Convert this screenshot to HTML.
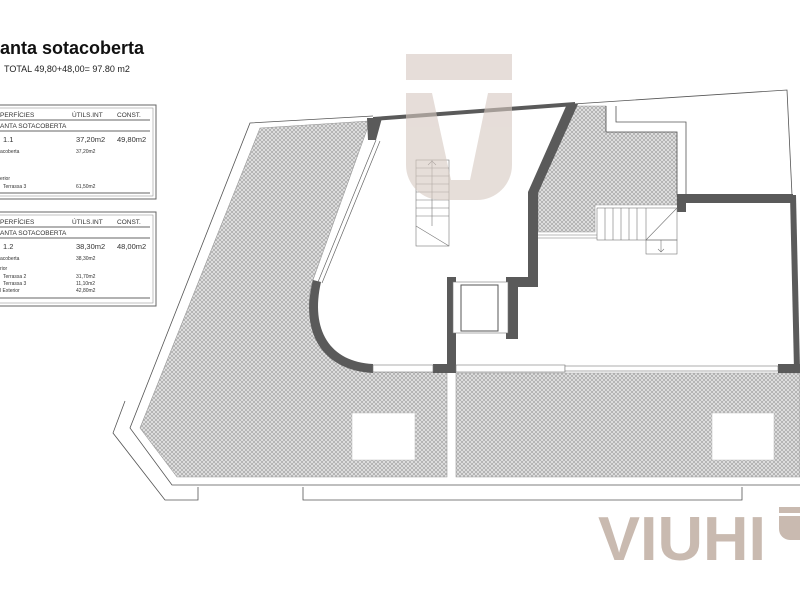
<!DOCTYPE html>
<html><head><meta charset="utf-8"><style>
html,body{margin:0;padding:0;background:#fff;}
svg{display:block;}
text{font-family:"Liberation Sans",sans-serif;}
</style></head><body>
<svg width="800" height="600" viewBox="0 0 800 600" xmlns="http://www.w3.org/2000/svg">
<defs>
<pattern id="h" width="4" height="4" patternUnits="userSpaceOnUse">
<rect width="4" height="4" fill="#e2e2e2"/>
<path d="M0,0L4,4M4,0L0,4" stroke="#9c9c9c" stroke-width="0.6"/>
</pattern>
</defs>
<rect width="800" height="600" fill="#fff"/>

<text x="0" y="54" font-size="18" font-weight="bold" fill="#111">anta sotacoberta</text>
<text x="4" y="72" font-size="9" fill="#222">TOTAL 49,80+48,00= 97.80 m2</text>

<g fill="none" stroke="#666">
<rect x="-5" y="105" width="161" height="94" stroke-width="1"/>
<rect x="-5" y="108" width="158" height="88" stroke="#999" stroke-width="0.6"/>
<line x1="0" y1="120" x2="150" y2="120"/><line x1="0" y1="131" x2="150" y2="131"/><line x1="0" y1="193" x2="150" y2="193"/>
<rect x="-5" y="212" width="161" height="94" stroke-width="1"/>
<rect x="-5" y="215" width="158" height="88" stroke="#999" stroke-width="0.6"/>
<line x1="0" y1="227" x2="150" y2="227"/><line x1="0" y1="238" x2="150" y2="238"/><line x1="0" y1="298" x2="150" y2="298"/>
</g>
<g fill="#333" font-size="6.5">
<text x="0" y="117">PERFÍCIES</text><text x="72" y="117">ÚTILS.INT</text><text x="117" y="117">CONST.</text>
<text x="0" y="128">ANTA SOTACOBERTA</text>
<text x="3" y="142" font-size="7.5">1.1</text><text x="76" y="142" font-size="7.5">37,20m2</text><text x="117" y="142" font-size="7.5">49,80m2</text>
<text x="0" y="153" font-size="5">acoberta</text><text x="76" y="153" font-size="5">37,20m2</text>
<text x="0" y="180" font-size="5">erior</text>
<text x="3" y="188" font-size="5">Terrassa 3</text><text x="76" y="188" font-size="5">61,50m2</text>
<text x="0" y="224">PERFÍCIES</text><text x="72" y="224">ÚTILS.INT</text><text x="117" y="224">CONST.</text>
<text x="0" y="235">ANTA SOTACOBERTA</text>
<text x="3" y="249" font-size="7.5">1.2</text><text x="76" y="249" font-size="7.5">38,30m2</text><text x="117" y="249" font-size="7.5">48,00m2</text>
<text x="0" y="260" font-size="5">acoberta</text><text x="76" y="260" font-size="5">38,30m2</text>
<text x="0" y="270" font-size="5">rior</text>
<text x="3" y="278" font-size="5">Terrassa 2</text><text x="76" y="278" font-size="5">31,70m2</text>
<text x="3" y="285" font-size="5">Terrassa 3</text><text x="76" y="285" font-size="5">11,10m2</text>
<text x="0" y="292" font-size="5">l Exterior</text><text x="76" y="292" font-size="5">42,80m2</text>
</g>

<g fill="url(#h)" stroke="#999" stroke-width="0.6">
<path d="M260,128 L370,121 L313,280 C300,320 320,360 373,370 L447,370 L447,477 L177,477 L140,428 Z"/>
<path d="M456,373 L800,373 L800,477 L456,477 Z"/>
<path d="M573,106 L606,106 L606,132 L677,132 L677,205 L595,205 L595,232 L538,232 L538,193 Z"/>
</g>
<rect x="352" y="413" width="63" height="47" fill="#fff" stroke="#bbb" stroke-width="0.5"/>
<rect x="712" y="413" width="62" height="47" fill="#fff" stroke="#bbb" stroke-width="0.5"/>

<g fill="none" stroke="#555" stroke-width="0.8">
<path d="M373,116 L250,123 L130,428 L172,485 L800,485"/>
<path d="M125,401 L113,433 L165,500 L198,500 L198,487"/>
<path d="M303,487 L303,500 L742,500 L742,487"/>
<path d="M573,104 L787,90 L792,195"/>
<path d="M606,106 L606,132 L677,132 L677,195"/>
<path d="M616,106 L616,122 L686,122 L686,195"/>
</g>

<g fill="#5a5a5a">
<path d="M373,117 L575,102 L575,106 L373,121 Z"/>
<path d="M367,118 L382,118 L376,140 L368,140 Z"/>
<path d="M567,104 L578,104 L538,193 L538,283 L528,283 L528,192 Z"/>
<path d="M677,194 L793,194 L793,203 L686,203 L686,212 L677,212 Z"/>
<path d="M790,195 L796,195 L800,370 L794,370 Z"/>
<rect x="447" y="277" width="9" height="96"/>
<path d="M506,277 L538,277 L538,287 L518,287 L518,339 L506,339 Z"/>
<rect x="433" y="364" width="23" height="9"/>
<rect x="778" y="364" width="22" height="9"/>
<path d="M313,280 L321,282 C310,330 330,362 373,364 L373,373 C320,370 300,330 313,280 Z"/>
</g>
<path d="M376,140 L318,282 M380,141 L322,283" stroke="#666" stroke-width="0.7" fill="none"/>
<g fill="#fff" stroke="#777" stroke-width="0.6">
<rect x="373" y="365" width="60" height="7"/>
<rect x="456" y="365" width="109" height="7"/>
<rect x="565" y="366" width="213" height="5"/>
</g>
<rect x="453" y="282" width="55" height="51" fill="#fff" stroke="#777" stroke-width="0.6"/>
<rect x="461" y="285" width="37" height="46" fill="none" stroke="#555" stroke-width="1"/>
<g fill="none" stroke="#777" stroke-width="0.6">
<rect x="416" y="160" width="33" height="86"/>
<line x1="432" y1="160" x2="432" y2="226"/>
<path d="M416,168H449M416,176H449M416,184H449M416,192H449M416,200H449M416,208H449M416,216H449M416,226L449,246M428,165L432,161L436,165"/>
<rect x="597" y="208" width="80" height="32"/>
<rect x="646" y="240" width="31" height="14"/>
<path d="M605,208V240M613,208V240M621,208V240M629,208V240M637,208V240M646,208V240M677,208L646,240M538,235H597M538,238H597M661,240V252M658,249L661,252L664,249"/>
</g>

<g fill="#d6c8c0" opacity="0.6">
<rect x="406" y="54" width="106" height="26"/>
<path d="M406,93 H432 L451,180 H470 L488,93 H512 V165 A35,35 0 0 1 477,200 H441 A35,35 0 0 1 406,165 Z"/>
</g>

<text x="598" y="560" font-size="62" font-weight="bold" fill="#c9bab0" textLength="168" lengthAdjust="spacingAndGlyphs">VIUHI</text>
<g fill="#c9bab0">
<rect x="779" y="507" width="21" height="6"/>
<path d="M779,516 H800 V540 H790 A11,11 0 0 1 779,529 Z"/>
</g>
</svg>
</body></html>
